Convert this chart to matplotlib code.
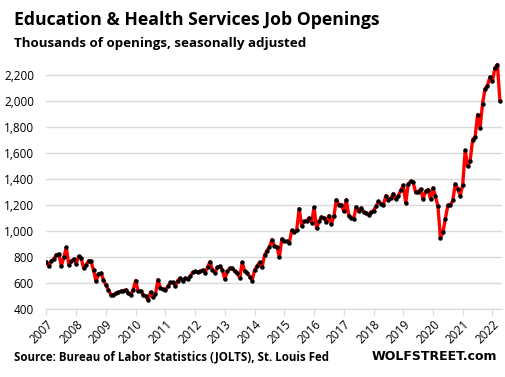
import matplotlib
matplotlib.use("Agg")
import matplotlib.pyplot as plt
import numpy as np

# monthly job openings, thousands, Jan 2007 .. Apr 2022
years = list(range(2007, 2023))
v2007 = [762, 728, 772, 785, 818, 823, 733, 797, 874, 741, 767, 785]
v2008 = [749, 805, 792, 715, 741, 772, 767, 697, 613, 669, 677, 626]
v2009 = [585, 549, 510, 510, 523, 528, 536, 541, 549, 523, 510, 549]
v2010 = [620, 536, 541, 510, 503, 467, 531, 490, 515, 626, 562, 554]
v2011 = [549, 574, 605, 605, 579, 620, 638, 618, 638, 633, 651, 682]
v2012 = [690, 682, 690, 700, 680, 720, 765, 700, 680, 720, 730, 700]
v2013 = [630, 690, 715, 715, 690, 680, 640, 760, 690, 680, 650, 620]
v2014 = [700, 730, 760, 720, 815, 850, 875, 935, 885, 880, 800, 940]
v2015 = [920, 920, 908, 1005, 992, 1010, 1172, 1041, 1074, 1079, 1100, 1064]
v2016 = [1182, 1021, 1074, 1108, 1100, 1069, 1118, 1054, 1113, 1241, 1203, 1203]
v2017 = [1151, 1241, 1118, 1100, 1095, 1185, 1151, 1177, 1146, 1138, 1126, 1146]
v2018 = [1156, 1190, 1228, 1210, 1203, 1272, 1236, 1254, 1287, 1246, 1272, 1313]
v2019 = [1351, 1215, 1361, 1382, 1374, 1297, 1300, 1323, 1246, 1305, 1318, 1246]
v2020 = [1331, 1267, 1190, 946, 990, 1095, 1197, 1197, 1236, 1361, 1323, 1272]
v2021 = [1356, 1620, 1497, 1541, 1702, 1723, 1895, 1792, 1979, 2092, 2118, 2185]
v2022 = [2151, 2254, 2279, 2002]

values = (v2007 + v2008 + v2009 + v2010 + v2011 + v2012 + v2013 + v2014 +
          v2015 + v2016 + v2017 + v2018 + v2019 + v2020 + v2021 + v2022)
dates = 2007 + np.arange(len(values)) / 12.0

yticks = list(range(400, 2201, 200))
GRID = "#d9d9d9"
FONT = ["Open Sans", "DejaVu Sans"]

fig = plt.figure(figsize=(5.05, 3.77), dpi=100)
ax = fig.add_axes([0.092, 0.180, 0.902, 0.656])

ax.plot(dates, values, color="#ff0000", lw=2.4, zorder=3, solid_joinstyle="round")
ax.plot(dates, values, ls="none", marker="o", ms=2.2, color="black", zorder=4)

ax.set_xlim(2007, 2022.32)
ax.set_ylim(400, 2300)
ax.set_yticks(yticks)
ax.set_yticklabels([f"{t:,}" for t in yticks], fontsize=8.5, family=FONT)
ax.set_xticks(years)
ax.set_xticklabels([str(y) for y in years], rotation=45, fontsize=8.5, family=FONT,
                   ha="right", rotation_mode="anchor")
ax.grid(axis="y", color=GRID, lw=1)
ax.set_axisbelow(True)
for s in ["top", "right", "left"]:
    ax.spines[s].set_visible(False)
ax.spines["bottom"].set_color(GRID)
ax.tick_params(axis="y", length=0, pad=9)
ax.tick_params(axis="x", length=4, color=GRID, pad=2)

fig.text(0.028, 0.935, "Education & Health Services Job Openings", fontsize=12.7,
         fontweight="bold", family=FONT)
fig.text(0.028, 0.875, "Thousands of openings, seasonally adjusted", fontsize=9.6,
         fontweight="bold", family=FONT)
fig.text(0.028, 0.045, "Source: Bureau of Labor Statistics (JOLTS), St. Louis Fed",
         fontsize=8.3, fontweight="bold", family=FONT)
fig.text(0.985, 0.045, "WOLFSTREET.com", fontsize=9, fontweight="bold",
         family=["DejaVu Sans"], ha="right")

fig.savefig("out.png", dpi=100)
